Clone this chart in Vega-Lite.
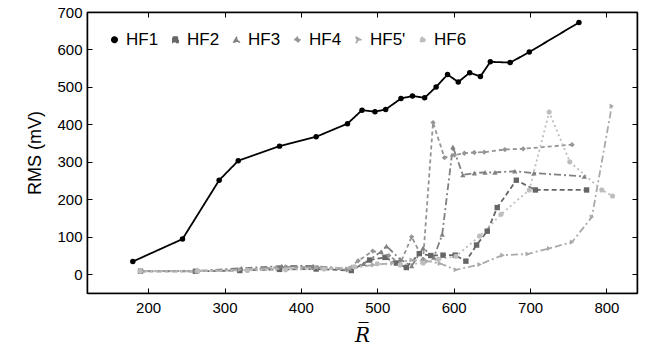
{
  "$schema": "https://vega.github.io/schema/vega-lite/v6.json",
  "width": 550,
  "height": 281,
  "autosize": "none",
  "padding": {"left": 87, "top": 12, "right": 9, "bottom": 67},
  "background": "white",
  "config": {
    "view": {"stroke": "black", "strokeWidth": 1.2},
    "font": "Liberation Sans",
    "axis": {"grid": false, "zindex": 1, "domainColor": "black", "domainWidth": 1.5, "tickColor": "black", "tickSize": -5, "tickWidth": 1, "labelColor": "black", "titleColor": "black", "labelFontSize": 15, "titleFontSize": 18, "titleFontWeight": "normal"}
  },
  "data": {"values": [
    {"s": "HF1", "x": 180, "y": 34},
    {"s": "HF1", "x": 245, "y": 94},
    {"s": "HF1", "x": 293, "y": 251},
    {"s": "HF1", "x": 318, "y": 303},
    {"s": "HF1", "x": 372, "y": 342},
    {"s": "HF1", "x": 420, "y": 367},
    {"s": "HF1", "x": 461, "y": 402},
    {"s": "HF1", "x": 480, "y": 438},
    {"s": "HF1", "x": 497, "y": 434},
    {"s": "HF1", "x": 511, "y": 440},
    {"s": "HF1", "x": 531, "y": 469},
    {"s": "HF1", "x": 546, "y": 476},
    {"s": "HF1", "x": 562, "y": 471},
    {"s": "HF1", "x": 577, "y": 500},
    {"s": "HF1", "x": 592, "y": 533},
    {"s": "HF1", "x": 606, "y": 513},
    {"s": "HF1", "x": 621, "y": 538},
    {"s": "HF1", "x": 635, "y": 528},
    {"s": "HF1", "x": 648, "y": 567},
    {"s": "HF1", "x": 674, "y": 565},
    {"s": "HF1", "x": 699, "y": 593},
    {"s": "HF1", "x": 764, "y": 672},

    {"s": "HF2", "x": 190, "y": 8},
    {"s": "HF2", "x": 262, "y": 8},
    {"s": "HF2", "x": 320, "y": 10},
    {"s": "HF2", "x": 372, "y": 13},
    {"s": "HF2", "x": 420, "y": 14},
    {"s": "HF2", "x": 466, "y": 10},
    {"s": "HF2", "x": 490, "y": 38},
    {"s": "HF2", "x": 510, "y": 45},
    {"s": "HF2", "x": 525, "y": 30},
    {"s": "HF2", "x": 538, "y": 18},
    {"s": "HF2", "x": 555, "y": 55},
    {"s": "HF2", "x": 570, "y": 50},
    {"s": "HF2", "x": 586, "y": 51},
    {"s": "HF2", "x": 602, "y": 51},
    {"s": "HF2", "x": 616, "y": 35},
    {"s": "HF2", "x": 630, "y": 78},
    {"s": "HF2", "x": 644, "y": 115},
    {"s": "HF2", "x": 657, "y": 178},
    {"s": "HF2", "x": 682, "y": 251},
    {"s": "HF2", "x": 707, "y": 225},
    {"s": "HF2", "x": 774, "y": 225},

    {"s": "HF3", "x": 190, "y": 8},
    {"s": "HF3", "x": 264, "y": 9},
    {"s": "HF3", "x": 322, "y": 16},
    {"s": "HF3", "x": 375, "y": 22},
    {"s": "HF3", "x": 416, "y": 22},
    {"s": "HF3", "x": 464, "y": 15},
    {"s": "HF3", "x": 482, "y": 28},
    {"s": "HF3", "x": 505, "y": 60},
    {"s": "HF3", "x": 512, "y": 75},
    {"s": "HF3", "x": 530, "y": 40},
    {"s": "HF3", "x": 545, "y": 22},
    {"s": "HF3", "x": 560, "y": 70},
    {"s": "HF3", "x": 574, "y": 45},
    {"s": "HF3", "x": 585, "y": 106},
    {"s": "HF3", "x": 599, "y": 340},
    {"s": "HF3", "x": 612, "y": 265},
    {"s": "HF3", "x": 627, "y": 270},
    {"s": "HF3", "x": 641, "y": 272},
    {"s": "HF3", "x": 654, "y": 272},
    {"s": "HF3", "x": 680, "y": 275},
    {"s": "HF3", "x": 705, "y": 270},
    {"s": "HF3", "x": 771, "y": 261},

    {"s": "HF4", "x": 190, "y": 9},
    {"s": "HF4", "x": 262, "y": 8},
    {"s": "HF4", "x": 330, "y": 12},
    {"s": "HF4", "x": 380, "y": 20},
    {"s": "HF4", "x": 422, "y": 18},
    {"s": "HF4", "x": 460, "y": 12},
    {"s": "HF4", "x": 475, "y": 36},
    {"s": "HF4", "x": 494, "y": 62},
    {"s": "HF4", "x": 515, "y": 50},
    {"s": "HF4", "x": 530, "y": 28},
    {"s": "HF4", "x": 545, "y": 100},
    {"s": "HF4", "x": 560, "y": 40},
    {"s": "HF4", "x": 573, "y": 405},
    {"s": "HF4", "x": 588, "y": 311},
    {"s": "HF4", "x": 601, "y": 318},
    {"s": "HF4", "x": 614, "y": 323},
    {"s": "HF4", "x": 627, "y": 325},
    {"s": "HF4", "x": 640, "y": 326},
    {"s": "HF4", "x": 667, "y": 333},
    {"s": "HF4", "x": 691, "y": 335},
    {"s": "HF4", "x": 755, "y": 346},

    {"s": "HF5'", "x": 190, "y": 8},
    {"s": "HF5'", "x": 265, "y": 8},
    {"s": "HF5'", "x": 320, "y": 12},
    {"s": "HF5'", "x": 370, "y": 15},
    {"s": "HF5'", "x": 420, "y": 18},
    {"s": "HF5'", "x": 465, "y": 16},
    {"s": "HF5'", "x": 495, "y": 25},
    {"s": "HF5'", "x": 520, "y": 30},
    {"s": "HF5'", "x": 545, "y": 38},
    {"s": "HF5'", "x": 565, "y": 35},
    {"s": "HF5'", "x": 582, "y": 29},
    {"s": "HF5'", "x": 603, "y": 12},
    {"s": "HF5'", "x": 634, "y": 26},
    {"s": "HF5'", "x": 664, "y": 51},
    {"s": "HF5'", "x": 697, "y": 54},
    {"s": "HF5'", "x": 725, "y": 69},
    {"s": "HF5'", "x": 755, "y": 86},
    {"s": "HF5'", "x": 781, "y": 153},
    {"s": "HF5'", "x": 807, "y": 449},

    {"s": "HF6", "x": 190, "y": 8},
    {"s": "HF6", "x": 265, "y": 9},
    {"s": "HF6", "x": 330, "y": 10},
    {"s": "HF6", "x": 380, "y": 12},
    {"s": "HF6", "x": 430, "y": 14},
    {"s": "HF6", "x": 470, "y": 20},
    {"s": "HF6", "x": 500, "y": 28},
    {"s": "HF6", "x": 530, "y": 25},
    {"s": "HF6", "x": 560, "y": 30},
    {"s": "HF6", "x": 580, "y": 40},
    {"s": "HF6", "x": 603, "y": 48},
    {"s": "HF6", "x": 634, "y": 102},
    {"s": "HF6", "x": 662, "y": 160},
    {"s": "HF6", "x": 699, "y": 225},
    {"s": "HF6", "x": 725, "y": 433},
    {"s": "HF6", "x": 752, "y": 300},
    {"s": "HF6", "x": 794, "y": 225},
    {"s": "HF6", "x": 808, "y": 209}
  ]},
  "resolve": {"axis": {"x": "independent", "y": "independent"}},
  "layer": [
    {"mark": {"type": "line", "strokeWidth": 1.8},
     "encoding": {
       "x": {"field": "x", "type": "quantitative", "title": "R\u0305",
         "scale": {"domain": [120, 840], "nice": false, "zero": false},
         "axis": {"values": [200, 300, 400, 500, 600, 700, 800], "labelPadding": 12, "titleFont": "DejaVu Serif", "titleFontStyle": "italic", "titleFontSize": 20, "titlePadding": 10}},
       "y": {"field": "y", "type": "quantitative", "title": "RMS (mV)",
         "scale": {"domain": [-50, 700], "nice": false, "zero": false},
         "axis": {"values": [0, 100, 200, 300, 400, 500, 600, 700], "labelPadding": 10, "titlePadding": 12}},
       "color": {"field": "s", "type": "nominal", "title": null,
         "scale": {"domain": ["HF1", "HF2", "HF3", "HF4", "HF5'", "HF6"], "range": ["#000000", "#666666", "#808080", "#959595", "#aaaaaa", "#bdbdbd"]},
         "legend": {"orient": "top-left", "direction": "horizontal", "columns": 6, "labelFontSize": 17, "labelColor": "black", "symbolSize": 40, "labelOffset": 3, "columnPadding": 8, "offset": 19, "padding": 0}},
       "strokeDash": {"field": "s", "type": "nominal", "title": null,
         "scale": {"domain": ["HF1", "HF2", "HF3", "HF4", "HF5'", "HF6"], "range": [[1, 0], [5, 3], [7, 3, 2, 3], [4, 3], [7, 3, 2, 3], [2, 3]]}}
     }},
    {"mark": {"type": "point", "filled": true, "size": 30, "opacity": 1},
     "encoding": {
       "x": {"field": "x", "type": "quantitative", "axis": {"orient": "top", "values": [200, 300, 400, 500, 600, 700, 800], "labels": false, "title": null}},
       "y": {"field": "y", "type": "quantitative", "axis": {"orient": "right", "values": [0, 100, 200, 300, 400, 500, 600, 700], "labels": false, "title": null}},
       "color": {"field": "s", "type": "nominal", "title": null, "legend": null},
       "shape": {"field": "s", "type": "nominal", "title": null, "legend": null,
         "scale": {"domain": ["HF1", "HF2", "HF3", "HF4", "HF5'", "HF6"], "range": ["circle", "square", "triangle-up", "diamond", "triangle-right", "circle"]}},
       "size": {"field": "s", "type": "nominal", "legend": null,
         "scale": {"domain": ["HF1", "HF2", "HF3", "HF4", "HF5'", "HF6"], "range": [30, 26, 36, 30, 36, 18]}}
     }}
  ]
}
